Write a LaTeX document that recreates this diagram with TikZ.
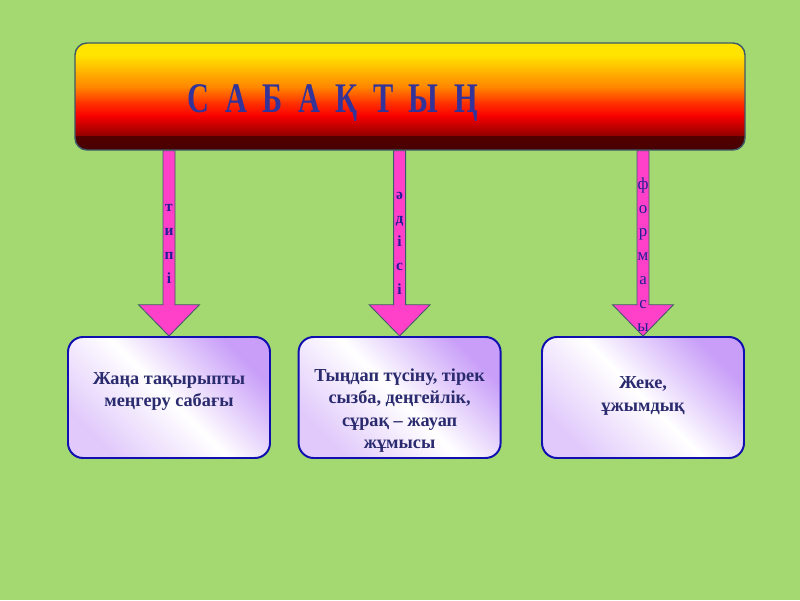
\documentclass[tikz,border=0pt]{standalone}
\usepackage{fontspec}
\setmainfont{Liberation Serif}
\newfontfamily\titlefont[FakeStretch=0.72]{Liberation Serif}
\usetikzlibrary{positioning, calc}

\definecolor{meadow}{RGB}{164,216,112}
\definecolor{sunyellow}{RGB}{255,228,0}
\definecolor{sunamber}{RGB}{255,180,0}
\definecolor{sunorange}{RGB}{255,132,0}
\definecolor{sunflame}{RGB}{255,56,0}
\definecolor{sunred}{RGB}{250,0,0}
\definecolor{sunwine}{RGB}{150,0,0}
\definecolor{sundark}{RGB}{72,0,0}
\definecolor{lilac}{RGB}{200,158,248}
\definecolor{inkblue}{RGB}{51,51,153}
\definecolor{navy}{RGB}{42,42,110}
\definecolor{letterblue}{RGB}{36,30,150}
\definecolor{pinkarrow}{RGB}{255,64,200}
\definecolor{slate}{RGB}{60,90,105}
\definecolor{boxblue}{RGB}{16,16,176}

\newcommand{\lgap}{\hspace{11pt}}

\begin{document}
\begin{tikzpicture}[
    sabakbox/.style={rectangle, rounded corners=0.3cm, draw=slate, line width=1pt,
        minimum width=16.75cm, minimum height=2.675cm,
        % colour bands, bottom to top
        path picture={
          \foreach \ca/\cb/\fa/\fb in {sundark/sunwine/0/0.14, sunwine/sunred/0.14/0.32,
              sunred/sunflame/0.32/0.45, sunflame/sunorange/0.45/0.58,
              sunorange/sunamber/0.58/0.73, sunamber/sunyellow/0.73/0.88,
              sunyellow/sunyellow/0.88/1}
            \shade[sharp corners, bottom color=\ca, top color=\cb]
              ($(path picture bounding box.south west)!\fa!(path picture bounding box.north west)$)
              rectangle
              ($(path picture bounding box.south east)!\fb!(path picture bounding box.north east)+(0,0.02)$);
        }},
    titletext/.style={font=\titlefont\bfseries\fontsize{30}{32}\selectfont, text=inkblue, anchor=base},
    lessonbox/.style={rectangle, rounded corners=0.375cm, draw=boxblue, line width=1.4pt,
        top color=lilac, bottom color=lilac!55!white, middle color=white, shading angle=-45,
        minimum width=5.05cm, minimum height=3.025cm},
    boxtext/.style={font=\bfseries\fontsize{13}{16}\selectfont, text=navy, align=center},
    downarrow/.style={fill=pinkarrow, draw=slate, line width=0.6pt, line join=miter},
    arrowtext/.style={font=\bfseries\fontsize{11}{16.9}\selectfont, text=letterblue, align=center}
]
\useasboundingbox (0,0) rectangle (20,15);
\fill[meadow] (0,0) rectangle (20,15);

% Top banner
\node[sabakbox] (sabak) at (10.25,12.5875) {};
\node[titletext] (title) at ($(sabak.center)+(-1.93,-0.39)$)
    {С\lgap А\lgap Б\lgap А\lgap Қ\lgap Т\lgap Ы\lgap Ң};

% Lesson boxes
\node[lessonbox] (jana) at (4.225,5.0625) {};
\node[lessonbox] (tyndap) at (9.99,5.0625) {};
\node[lessonbox] (jeke) at (16.075,5.0625) {};

\node[boxtext] (janatext) at ($(jana.center)+(0,0.15)$) {Жаңа тақырыпты\\меңгеру сабағы};
\node[boxtext] (tyndaptext) at ($(tyndap.center)+(0,-0.33)$)
    {Тыңдап түсіну, тірек\\сызба, деңгейлік,\\сұрақ -- жауап\\жұмысы};
\node[boxtext] (jeketext) at ($(jeke.center)+(0,0.04)$) {Жеке,\\ұжымдық};

% Arrows from banner to boxes
\foreach \b in {jana, tyndap, jeke} {
    \draw[downarrow] ($(sabak.south -| \b.north)+(-0.15,0)$) -- ($(\b.north)+(-0.15,0.78)$)
        -- ($(\b.north)+(-0.76,0.78)$) -- (\b.north) -- ($(\b.north)+(0.76,0.78)$)
        -- ($(\b.north)+(0.15,0.78)$) -- ($(sabak.south -| \b.north)+(0.15,0)$) -- cycle;
}

% Letters along the arrows
\node[arrowtext] (tipi) at (jana.north |- 0,8.9) {т\\и\\п\\і};
\node[arrowtext] (adisi) at (tyndap.north |- 0,8.92) {ә\\д\\і\\с\\і};
\node[arrowtext, font=\fontsize{12}{16.9}\selectfont] (formasy) at (jeke.north |- 0,8.63)
    {ф\\о\\р\\м\\а\\с\\ы};

\end{tikzpicture}
\end{document}
